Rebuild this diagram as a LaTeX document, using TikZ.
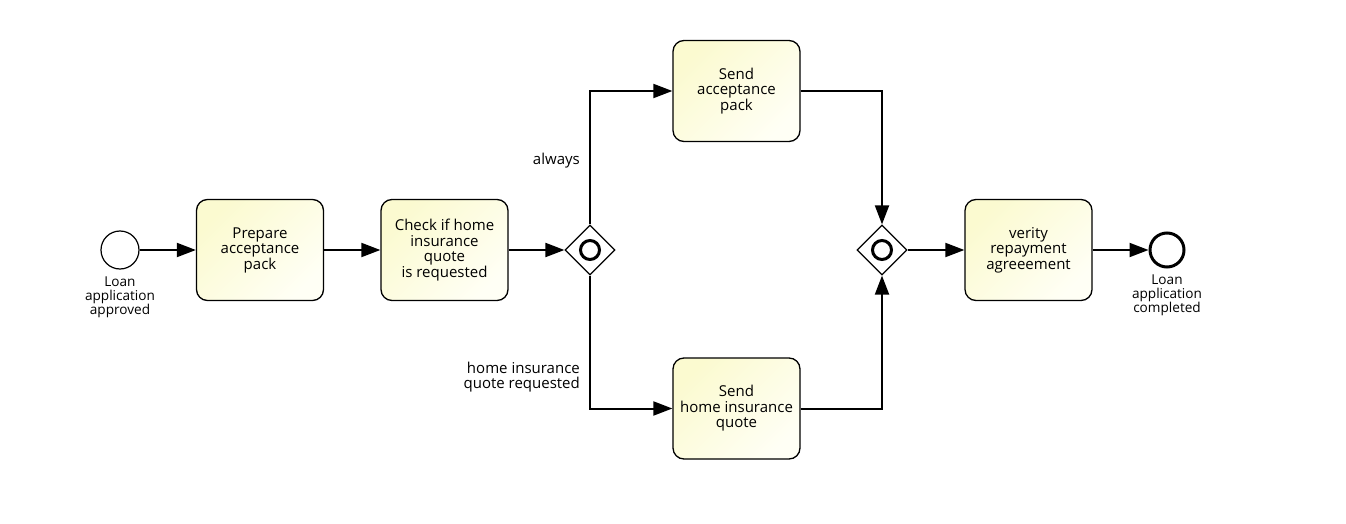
\documentclass[tikz,border=0pt]{standalone}
\usepackage{fontspec}
\setmainfont{Open Sans}
\usetikzlibrary{arrows.meta,shapes.geometric}
\definecolor{taskA}{RGB}{251,250,208}
\definecolor{taskB}{RGB}{255,255,245}
\begin{document}
\begin{tikzpicture}[x=1pt,y=-1pt,
  task/.style={draw=black,line width=1.3pt,rounded corners=11pt,minimum width=127pt,minimum height=101pt,
    left color=taskA,right color=taskB,shading angle=45,align=center,inner sep=2pt,
    font=\fontsize{15}{15.5}\selectfont},
  gate/.style={draw=black,line width=1.2pt,fill=white,diamond,minimum width=50pt,minimum height=50pt,inner sep=0pt},
  ring/.style={draw=black,line width=3pt,circle,minimum size=19pt,inner sep=0pt},
  startev/.style={draw=black,line width=1.2pt,fill=white,circle,minimum size=38pt,inner sep=0pt},
  endev/.style={draw=black,line width=3pt,fill=white,circle,minimum size=34pt,inner sep=0pt},
  evlabel/.style={align=center,font=\fontsize{13.6}{14}\selectfont,inner sep=0pt},
  flowlabel/.style={align=right,font=\fontsize{15}{15.5}\selectfont,inner sep=0pt},
  flow/.style={line width=2pt,-{Triangle[length=19pt,width=14pt]}}]
\useasboundingbox (0,0) rectangle (1346,524);
\fill[white] (0,0) rectangle (1346,524);
% events
\node[startev] (start) at (120,250) {};
\node[evlabel,anchor=north] (startlbl) at (120,277) {Loan\\application\\approved};
\node[endev] (end) at (1167,250) {};
\node[evlabel,anchor=north] (endlbl) at (1167,275) {Loan\\application\\completed};
% tasks
\node[task] (prep) at (260,250) {Prepare\\acceptance\\pack};
\node[task] (check) at (444.5,250) {Check if home\\insurance\\quote\\is requested};
\node[task] (sendacc) at (736.5,91) {Send\\acceptance\\pack};
\node[task] (sendins) at (736.5,408.5) {Send\\home insurance\\quote};
\node[task] (verify) at (1028.5,250) {verity\\repayment\\agreeement};
% gateways
\node[gate] (g1) at (590,250) {};
\node[ring] (g1r) at (g1.center) {};
\node[gate] (g2) at (882,250) {};
\node[ring] (g2r) at (g2.center) {};
% flows
\draw[flow] (start) -- (prep);
\draw[flow] (prep) -- (check);
\draw[flow] (check) -- (g1);
\draw[flow] (g1.north) |- (sendacc.west);
\draw[flow] (g1.south) |- (sendins.west);
\draw[flow] (sendacc.east) -| (g2.north);
\draw[flow] (sendins.east) -| (g2.south);
\draw[flow] (g2) -- (verify);
\draw[flow] (verify) -- (end);
% labels
\node[flowlabel,anchor=east] (lalways) at (580,161) {always};
\node[flowlabel,anchor=east] (lins) at (580,377) {home insurance\\quote requested};
\end{tikzpicture}
\end{document}
